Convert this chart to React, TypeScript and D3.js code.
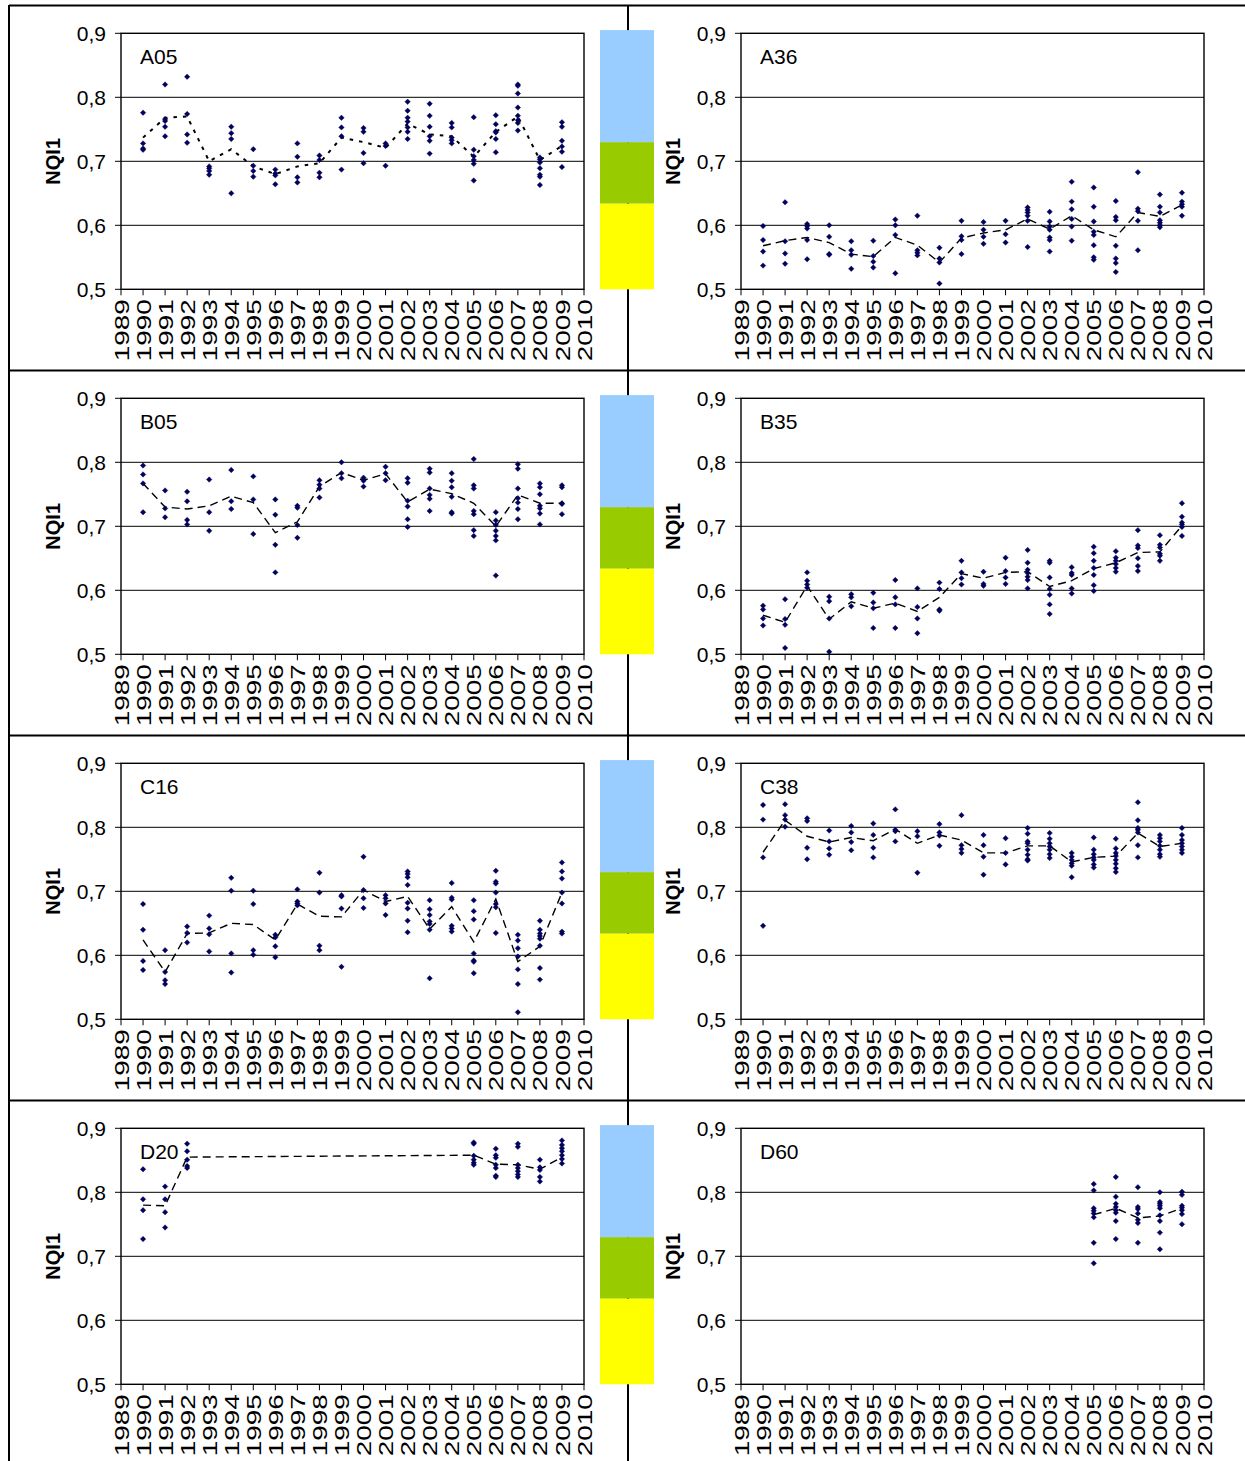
import React from "react";
import * as d3 from "d3";

const YEARS = [1990, 1991, 1992, 1993, 1994, 1995, 1996, 1997, 1998, 1999, 2000, 2001, 2002, 2003, 2004, 2005, 2006, 2007, 2008, 2009];
const AXIS_YEARS = [1989, 1990, 1991, 1992, 1993, 1994, 1995, 1996, 1997, 1998, 1999, 2000, 2001, 2002, 2003, 2004, 2005, 2006, 2007, 2008, 2009, 2010];
const Y_TICKS = [0.5, 0.6, 0.7, 0.8, 0.9];
const Y_TICK_LABELS = ["0,5", "0,6", "0,7", "0,8", "0,9"];
const GRID_VALUES = [0.6, 0.7, 0.8];
const CLASS_BREAKS = [0.5, 0.634, 0.73, 0.905];
const CLASS_COLORS = ["#FFFF00", "#99CC00", "#99CCFF"];

const A05_POINTS = [
  [0.776, 0.728, 0.720, 0.718], [0.820, 0.766, 0.763, 0.754, 0.739], [0.832, 0.774, 0.742, 0.729],
  [0.692, 0.689, 0.685, 0.679], [0.754, 0.744, 0.735, 0.650], [0.719, 0.693, 0.685, 0.676],
  [0.687, 0.681, 0.678, 0.664], [0.728, 0.707, 0.675, 0.667], [0.709, 0.702, 0.682, 0.675],
  [0.768, 0.753, 0.739, 0.687], [0.752, 0.746, 0.713, 0.697], [0.728, 0.724, 0.693],
  [0.793, 0.779, 0.768, 0.762, 0.753, 0.746, 0.735], [0.790, 0.771, 0.754, 0.739, 0.732, 0.712],
  [0.760, 0.753, 0.737, 0.733, 0.728], [0.769, 0.718, 0.708, 0.702, 0.696, 0.670],
  [0.772, 0.758, 0.747, 0.745, 0.735, 0.714], [0.820, 0.818, 0.806, 0.784, 0.771, 0.764, 0.760, 0.748],
  [0.706, 0.703, 0.698, 0.689, 0.679, 0.676, 0.663], [0.761, 0.754, 0.732, 0.723, 0.715, 0.691],
];
const A05_MEAN = [0.737, 0.768, 0.770, 0.700, 0.719, 0.692, 0.680, 0.692, 0.697, 0.737, 0.730, 0.721, 0.759, 0.742, 0.739, 0.707, 0.746, 0.770, 0.702, 0.724];

const A36_POINTS = [
  [0.599, 0.577, 0.559, 0.537], [0.636, 0.575, 0.556, 0.540], [0.602, 0.599, 0.595, 0.577, 0.547],
  [0.600, 0.582, 0.555, 0.554], [0.575, 0.561, 0.554, 0.532], [0.576, 0.552, 0.543, 0.534],
  [0.609, 0.600, 0.585, 0.525], [0.615, 0.561, 0.557, 0.553], [0.565, 0.548, 0.542, 0.509],
  [0.607, 0.583, 0.577, 0.555], [0.605, 0.593, 0.582, 0.571], [0.607, 0.586, 0.573],
  [0.628, 0.624, 0.620, 0.615, 0.607, 0.566], [0.621, 0.606, 0.598, 0.593, 0.581, 0.577, 0.559],
  [0.668, 0.637, 0.625, 0.610, 0.598, 0.576], [0.659, 0.629, 0.606, 0.590, 0.585, 0.569, 0.550, 0.546],
  [0.638, 0.613, 0.608, 0.568, 0.548, 0.541, 0.527], [0.683, 0.626, 0.622, 0.607, 0.561],
  [0.648, 0.629, 0.620, 0.608, 0.604, 0.600, 0.597], [0.651, 0.637, 0.633, 0.629, 0.615],
];
const A36_MEAN = [0.568, 0.576, 0.581, 0.573, 0.555, 0.551, 0.581, 0.569, 0.542, 0.580, 0.588, 0.593, 0.610, 0.594, 0.615, 0.593, 0.582, 0.620, 0.614, 0.632];

const B05_POINTS = [
  [0.795, 0.781, 0.767, 0.722], [0.756, 0.728, 0.714], [0.754, 0.739, 0.710, 0.703],
  [0.773, 0.722, 0.693], [0.788, 0.739, 0.727], [0.778, 0.742, 0.688],
  [0.742, 0.718, 0.671, 0.628], [0.732, 0.729, 0.702, 0.682], [0.772, 0.765, 0.759, 0.745],
  [0.800, 0.783, 0.775], [0.776, 0.771, 0.762], [0.793, 0.783, 0.772],
  [0.775, 0.768, 0.740, 0.731, 0.711, 0.699], [0.790, 0.784, 0.759, 0.749, 0.743, 0.724],
  [0.783, 0.771, 0.761, 0.746, 0.722, 0.720], [0.805, 0.764, 0.759, 0.724, 0.719, 0.694, 0.685],
  [0.722, 0.709, 0.702, 0.693, 0.685, 0.678, 0.623], [0.797, 0.790, 0.759, 0.744, 0.737, 0.727, 0.711],
  [0.767, 0.761, 0.750, 0.732, 0.728, 0.720, 0.703], [0.764, 0.761, 0.736, 0.735, 0.719],
];
const B05_MEAN = [0.767, 0.730, 0.727, 0.732, 0.747, 0.737, 0.690, 0.707, 0.762, 0.784, 0.772, 0.782, 0.738, 0.758, 0.751, 0.736, 0.700, 0.749, 0.736, 0.736];

const B35_POINTS = [
  [0.576, 0.570, 0.556, 0.545], [0.586, 0.555, 0.546, 0.510], [0.628, 0.615, 0.609, 0.604],
  [0.590, 0.583, 0.556, 0.504], [0.594, 0.589, 0.575], [0.596, 0.581, 0.572, 0.541],
  [0.616, 0.589, 0.578, 0.541], [0.603, 0.574, 0.556, 0.533], [0.612, 0.602, 0.570, 0.568],
  [0.646, 0.628, 0.619, 0.609], [0.629, 0.610, 0.607], [0.651, 0.630, 0.620, 0.610],
  [0.663, 0.643, 0.632, 0.627, 0.621, 0.616, 0.603], [0.646, 0.643, 0.620, 0.602, 0.593, 0.578, 0.563],
  [0.636, 0.627, 0.624, 0.603, 0.595], [0.668, 0.658, 0.646, 0.635, 0.624, 0.608, 0.599],
  [0.661, 0.651, 0.646, 0.641, 0.635, 0.629], [0.694, 0.670, 0.666, 0.650, 0.638, 0.630],
  [0.686, 0.671, 0.667, 0.657, 0.654, 0.646], [0.736, 0.715, 0.706, 0.703, 0.699, 0.685],
];
const B35_MEAN = [0.561, 0.550, 0.607, 0.555, 0.582, 0.572, 0.580, 0.567, 0.589, 0.626, 0.619, 0.628, 0.629, 0.606, 0.615, 0.634, 0.643, 0.659, 0.660, 0.701];

const C16_POINTS = [
  [0.680, 0.640, 0.591, 0.577], [0.608, 0.574, 0.561, 0.555], [0.645, 0.635, 0.620],
  [0.662, 0.642, 0.633, 0.606], [0.721, 0.701, 0.603, 0.573], [0.701, 0.680, 0.608, 0.601],
  [0.632, 0.628, 0.614, 0.597], [0.703, 0.684, 0.681, 0.678], [0.729, 0.698, 0.615, 0.608],
  [0.694, 0.692, 0.673, 0.582], [0.754, 0.702, 0.689, 0.674], [0.694, 0.689, 0.681, 0.663],
  [0.731, 0.727, 0.722, 0.710, 0.682, 0.673, 0.654, 0.636], [0.686, 0.672, 0.663, 0.653, 0.649, 0.640, 0.564],
  [0.713, 0.690, 0.687, 0.646, 0.642, 0.637], [0.686, 0.669, 0.656, 0.603, 0.592, 0.590, 0.572],
  [0.732, 0.715, 0.712, 0.698, 0.680, 0.675, 0.635], [0.632, 0.623, 0.611, 0.598, 0.578, 0.555, 0.511],
  [0.654, 0.640, 0.634, 0.630, 0.626, 0.615, 0.580, 0.562], [0.745, 0.731, 0.720, 0.698, 0.681, 0.637, 0.634],
];
const C16_MEAN = [0.624, 0.574, 0.634, 0.635, 0.650, 0.648, 0.624, 0.680, 0.661, 0.660, 0.702, 0.684, 0.692, 0.641, 0.676, 0.621, 0.688, 0.590, 0.614, 0.698];

const C38_POINTS = [
  [0.835, 0.812, 0.753, 0.646], [0.836, 0.819, 0.812, 0.801], [0.814, 0.810, 0.768, 0.750],
  [0.795, 0.778, 0.767, 0.757], [0.802, 0.792, 0.777, 0.764], [0.806, 0.788, 0.768, 0.753],
  [0.828, 0.796, 0.794, 0.778], [0.794, 0.786, 0.729], [0.805, 0.792, 0.787, 0.771],
  [0.819, 0.772, 0.766, 0.760], [0.788, 0.772, 0.754, 0.726], [0.783, 0.760, 0.742],
  [0.799, 0.790, 0.778, 0.775, 0.765, 0.757, 0.750, 0.748], [0.791, 0.782, 0.775, 0.770, 0.765, 0.758, 0.752],
  [0.760, 0.754, 0.749, 0.744, 0.740, 0.722], [0.784, 0.765, 0.758, 0.753, 0.749, 0.742, 0.737],
  [0.782, 0.767, 0.760, 0.755, 0.749, 0.743, 0.736, 0.730], [0.839, 0.811, 0.799, 0.796, 0.792, 0.772, 0.753],
  [0.788, 0.783, 0.778, 0.771, 0.765, 0.758, 0.754], [0.799, 0.788, 0.780, 0.775, 0.770, 0.765, 0.760],
];
const C38_MEAN = [0.761, 0.811, 0.786, 0.777, 0.784, 0.779, 0.797, 0.775, 0.788, 0.780, 0.760, 0.760, 0.771, 0.771, 0.746, 0.753, 0.755, 0.791, 0.770, 0.775];

const D20_POINTS = [
  [0.836, 0.789, 0.772, 0.727], [0.809, 0.789, 0.769, 0.745], [0.876, 0.864, 0.851, 0.841, 0.838],
  [], [], [], [], [], [], [], [], [], [], [], [],
  [0.878, 0.876, 0.857, 0.851, 0.846, 0.843], [0.868, 0.858, 0.854, 0.843, 0.838, 0.826, 0.824],
  [0.876, 0.871, 0.843, 0.838, 0.833, 0.828, 0.824], [0.851, 0.839, 0.835, 0.824, 0.817],
  [0.881, 0.874, 0.869, 0.864, 0.858, 0.852, 0.845],
];
const D20_MEAN = [0.780, 0.779, 0.855, null, null, null, null, null, null, null, null, null, null, null, null, 0.858, 0.844, 0.843, 0.836, 0.855];

const D60_POINTS = [
  [], [], [], [], [], [], [], [], [], [], [], [], [], [], [],
  [0.813, 0.803, 0.775, 0.771, 0.767, 0.761, 0.721, 0.689],
  [0.824, 0.793, 0.782, 0.777, 0.772, 0.768, 0.755, 0.727],
  [0.808, 0.777, 0.774, 0.767, 0.757, 0.752, 0.721],
  [0.800, 0.785, 0.782, 0.779, 0.775, 0.764, 0.755, 0.737, 0.711],
  [0.801, 0.796, 0.779, 0.776, 0.772, 0.766, 0.750],
];
const D60_MEAN = [null, null, null, null, null, null, null, null, null, null, null, null, null, null, null, 0.765, 0.775, 0.760, 0.763, 0.775];

const PANEL_NAMES = ["A05", "A36", "B05", "B35", "C16", "C38", "D20", "D60"];
const PANEL_POINTS = [A05_POINTS, A36_POINTS, B05_POINTS, B35_POINTS, C16_POINTS, C38_POINTS, D20_POINTS, D60_POINTS];
const PANEL_MEANS = [A05_MEAN, A36_MEAN, B05_MEAN, B35_MEAN, C16_MEAN, C38_MEAN, D20_MEAN, D60_MEAN];

const FONT = "'Liberation Sans', Arial, Helvetica, sans-serif";
const W = 1245;
const H = 1461;
const PLOT_W = 463;
const PLOT_H = 256;
const COL_X = [121, 741];
const ROW_Y = [33.3, 398.3, 763.3, 1128.3];

const diamond = {
  draw(ctx: any, size: number) {
    const r = Math.sqrt(size / 2);
    ctx.moveTo(0, -r);
    ctx.lineTo(r, 0);
    ctx.lineTo(0, r);
    ctx.lineTo(-r, 0);
    ctx.closePath();
  },
};
const markerPath = d3.symbol().type(diamond as any).size(15)() as string;

function Panel({ index }: { index: number }) {
  const col = index % 2;
  const row = Math.floor(index / 2);
  const x = d3.scaleLinear().domain([1989, 2010]).range([0, PLOT_W]);
  const y = d3.scaleLinear().domain([0.5, 0.9]).range([PLOT_H, 0]);
  const points = PANEL_POINTS[index];
  const means = PANEL_MEANS[index];
  const lineData = YEARS.map((yr, i) => ({ yr, v: means[i] })).filter((d) => d.v !== null) as { yr: number; v: number }[];
  const line = d3.line<{ yr: number; v: number }>().x((d) => x(d.yr)).y((d) => y(d.v));
  const dash = index === 0 ? "3.5,6" : "8,5";
  const dashW = index === 0 ? 2 : 1.4;
  return (
    <g transform={`translate(${COL_X[col]},${ROW_Y[row]})`}>
      {col === 0 &&
        CLASS_COLORS.map((c, i) => (
          <rect key={c} x={479} width={54} y={y(CLASS_BREAKS[i + 1])} height={y(CLASS_BREAKS[i]) - y(CLASS_BREAKS[i + 1])} fill={c} />
        ))}
      <rect x={0} y={0} width={PLOT_W} height={PLOT_H} fill="#fff" />
      {GRID_VALUES.map((v) => (
        <line key={v} x1={0} x2={PLOT_W} y1={y(v)} y2={y(v)} stroke="#000" strokeWidth={1} />
      ))}
      <rect x={0} y={0} width={PLOT_W} height={PLOT_H} fill="none" stroke="#000" strokeWidth={1.4} />
      {Y_TICKS.map((v, i) => (
        <g key={v}>
          <line x1={-6} x2={0} y1={y(v)} y2={y(v)} stroke="#000" strokeWidth={1} />
          <text x={-15} y={y(v)} dy="0.36em" textAnchor="end" fontSize={21} fontFamily={FONT}>
            {Y_TICK_LABELS[i]}
          </text>
        </g>
      ))}
      {AXIS_YEARS.map((yr) => (
        <g key={yr}>
          <line x1={x(yr)} x2={x(yr)} y1={PLOT_H} y2={PLOT_H + 6} stroke="#000" strokeWidth={1} />
          <text
            transform={`translate(${x(yr)},${PLOT_H + 10}) rotate(-90)`}
            dy="0.36em"
            textAnchor="end"
            fontSize={21}
            fontFamily={FONT}
            textLength={62}
            lengthAdjust="spacingAndGlyphs"
          >
            {yr}
          </text>
        </g>
      ))}
      <text
        transform={`translate(-68,${PLOT_H / 2}) rotate(-90)`}
        dy="0.36em"
        textAnchor="middle"
        fontSize={20}
        fontWeight="bold"
        fontFamily={FONT}
      >
        NQI1
      </text>
      <text x={19} y={31} fontSize={21} fontFamily={FONT}>
        {PANEL_NAMES[index]}
      </text>
      <path d={line(lineData) || ""} fill="none" stroke="#000" strokeWidth={dashW} strokeDasharray={dash} />
      {YEARS.map((yr, i) =>
        points[i].map((v, j) => (
          <path key={`${yr}-${j}`} d={markerPath} transform={`translate(${x(yr)},${y(v)})`} fill="#000066" stroke="#000033" strokeWidth={0.4} />
        ))
      )}
    </g>
  );
}

export default function App() {
  return (
    <svg width={W} height={H} style={{ position: "absolute", left: 0, top: 0, background: "#fff" }}>
      <rect x={0} y={0} width={W} height={H} fill="#fff" />
      <line x1={9} x2={W} y1={5.5} y2={5.5} stroke="#000" strokeWidth={2} />
      <line x1={9} x2={9} y1={5} y2={H} stroke="#000" strokeWidth={2} />
      <line x1={628} x2={628} y1={5} y2={H} stroke="#000" strokeWidth={2} />
      {[370.5, 735.5, 1100.5].map((yy) => (
        <line key={yy} x1={9} x2={W} y1={yy} y2={yy} stroke="#000" strokeWidth={2} />
      ))}
      {PANEL_NAMES.map((_, i) => (
        <Panel key={i} index={i} />
      ))}
    </svg>
  );
}
